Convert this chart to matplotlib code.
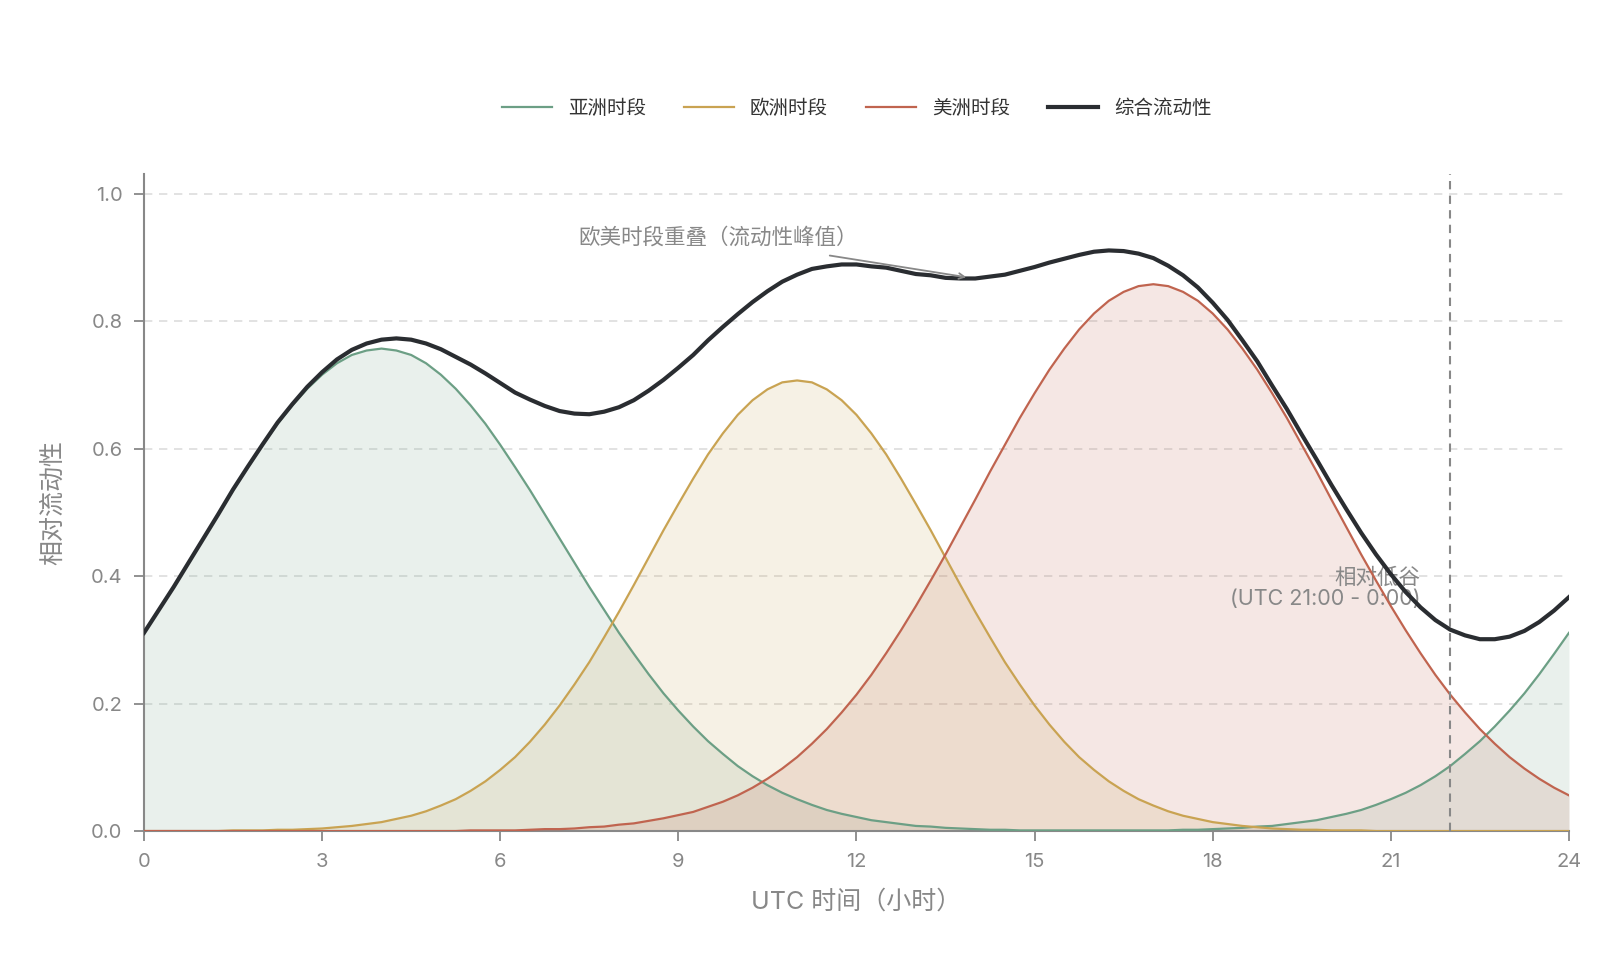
#!/usr/bin/env python3
"""
Forex session liquidity chart: Asia / Europe / America sessions and combined liquidity
"""

import numpy as np
import matplotlib
matplotlib.use('Agg')
import matplotlib.pyplot as plt

plt.rcParams['font.family'] = ['Inter', 'Noto Sans CJK SC', 'DejaVu Sans']
plt.rcParams['axes.unicode_minus'] = False

# UTC hours, quarter-hour steps
hours = np.arange(0, 24.25, 0.25)

# values, four per hour (0:00 .. 24:00)
asia = [
    0.311, 0.347, 0.383, 0.421,  # 0h
    0.459, 0.497, 0.535, 0.571,
    0.606, 0.639, 0.668, 0.694,
    0.716, 0.734, 0.747, 0.754,
    0.757, 0.754, 0.747, 0.734,  # 4h
    0.716, 0.694, 0.668, 0.639,
    0.606, 0.571, 0.535, 0.497,
    0.459, 0.421, 0.383, 0.347,
    0.311, 0.278, 0.246, 0.216,  # 8h
    0.189, 0.164, 0.141, 0.121,
    0.102, 0.086, 0.072, 0.060,
    0.050, 0.041, 0.033, 0.027,
    0.022, 0.017, 0.014, 0.011,  # 12h
    0.008, 0.007, 0.005, 0.004,
    0.003, 0.002, 0.002, 0.001,
    0.001, 0.001, 0.001, 0.001,
    0.001, 0.001, 0.001, 0.001,  # 16h
    0.001, 0.001, 0.002, 0.002,
    0.003, 0.004, 0.005, 0.007,
    0.008, 0.011, 0.014, 0.017,
    0.022, 0.027, 0.033, 0.041,  # 20h
    0.050, 0.060, 0.072, 0.086,
    0.102, 0.121, 0.141, 0.164,
    0.189, 0.216, 0.246, 0.278,
    0.311,
]
europe = [
    0.000, 0.000, 0.000, 0.000,  # 0h
    0.000, 0.000, 0.001, 0.001,
    0.001, 0.002, 0.002, 0.003,
    0.004, 0.006, 0.008, 0.011,
    0.014, 0.019, 0.024, 0.031,  # 4h
    0.040, 0.050, 0.063, 0.078,
    0.096, 0.116, 0.140, 0.167,
    0.197, 0.230, 0.265, 0.304,
    0.344, 0.386, 0.429, 0.472,  # 8h
    0.513, 0.553, 0.591, 0.624,
    0.653, 0.676, 0.693, 0.704,
    0.707, 0.704, 0.693, 0.676,
    0.653, 0.624, 0.591, 0.553,  # 12h
    0.513, 0.472, 0.429, 0.386,
    0.344, 0.304, 0.265, 0.230,
    0.197, 0.167, 0.140, 0.116,
    0.096, 0.078, 0.063, 0.050,  # 16h
    0.040, 0.031, 0.024, 0.019,
    0.014, 0.011, 0.008, 0.006,
    0.004, 0.003, 0.002, 0.002,
    0.001, 0.001, 0.001, 0.000,  # 20h
    0.000, 0.000, 0.000, 0.000,
    0.000, 0.000, 0.000, 0.000,
    0.000, 0.000, 0.000, 0.000,
    0.000,
]
america = [
    0.000, 0.000, 0.000, 0.000,  # 0h
    0.000, 0.000, 0.000, 0.000,
    0.000, 0.000, 0.000, 0.000,
    0.000, 0.000, 0.000, 0.000,
    0.000, 0.000, 0.000, 0.000,  # 4h
    0.000, 0.000, 0.001, 0.001,
    0.001, 0.001, 0.002, 0.003,
    0.003, 0.004, 0.006, 0.007,
    0.010, 0.012, 0.016, 0.020,  # 8h
    0.025, 0.030, 0.038, 0.046,
    0.056, 0.068, 0.082, 0.098,
    0.116, 0.137, 0.160, 0.186,
    0.214, 0.245, 0.279, 0.315,  # 12h
    0.353, 0.393, 0.434, 0.477,
    0.520, 0.564, 0.606, 0.648,
    0.687, 0.724, 0.757, 0.787,
    0.812, 0.832, 0.846, 0.855,  # 16h
    0.858, 0.855, 0.846, 0.832,
    0.812, 0.787, 0.757, 0.724,
    0.687, 0.648, 0.606, 0.564,
    0.520, 0.477, 0.434, 0.393,  # 20h
    0.353, 0.315, 0.279, 0.245,
    0.214, 0.186, 0.160, 0.137,
    0.116, 0.098, 0.082, 0.068,
    0.056,
]

# combined liquidity is the sum of the three sessions
combined = np.array(asia) + np.array(europe) + np.array(america)

session_names = ['亚洲时段', '欧洲时段', '美洲时段']
session_colors = ['#6c9f85', '#c9a352', '#c0644f']
combined_name = '综合流动性'
combined_color = '#2a2d31'

x_ticks = [0, 3, 6, 9, 12, 15, 18, 21, 24]
y_ticks = [0.0, 0.2, 0.4, 0.6, 0.8, 1.0]

gray = '#888888'

fig = plt.figure(figsize=(16, 9.67), dpi=100)
ax = fig.add_axes([0.09, 0.1406, 0.8906, 0.6795])

for vals, name, color in zip([asia, europe, america], session_names, session_colors):
    ax.fill_between(hours, 0, vals, color=color, alpha=0.15, lw=0, zorder=1)
    ax.plot(hours, vals, color=color, lw=1.6, label=name, zorder=3)

ax.plot(hours, combined, color=combined_color, lw=3, label=combined_name, zorder=5)

# low-liquidity marker
ax.axvline(22, color=gray, lw=1.5, ls=(0, (4, 3)), zorder=4)

# annotations
ax.text(9.67, 0.932, '欧美时段重叠（流动性峰值）', ha='center', va='center',
        fontsize=15.5, color=gray, zorder=2)
ax.annotate('', xy=(13.85, 0.869), xytext=(11.55, 0.903),
            arrowprops=dict(arrowstyle='->', color=gray, lw=1.3,
                            shrinkA=0, shrinkB=0), zorder=6)
ax.text(21.5, 0.381, '相对低谷\n(UTC 21:00 - 0:00)', ha='right', va='center',
        multialignment='right', fontsize=15.5, color=gray, zorder=2,
        linespacing=1.12)

ax.set_xlim(0, 24)
ax.set_ylim(0, 1.031)
ax.set_xticks(x_ticks)
ax.set_yticks(y_ticks)
ax.set_yticklabels([f'{v:.1f}' for v in y_ticks])

ax.grid(axis='y', color='#dddddd', lw=1.2, ls=(0, (5, 4)))
ax.set_axisbelow(True)

for side in ['top', 'right']:
    ax.spines[side].set_visible(False)
for side in ['left', 'bottom']:
    ax.spines[side].set_color(gray)
    ax.spines[side].set_linewidth(1.5)

ax.tick_params(axis='both', colors=gray, labelcolor=gray, labelsize=14.5,
               length=7.5, width=1.3, pad=8)

ax.set_xlabel('UTC 时间（小时）', fontsize=18, color=gray, labelpad=14)
ax.set_ylabel('相对流动性', fontsize=18, color=gray, labelpad=19)

leg = ax.legend(loc='center', bbox_to_anchor=(0.5, 1.10), ncol=4, frameon=False,
                fontsize=14, handlelength=2.6, handletextpad=0.8,
                columnspacing=1.95)
for t in leg.get_texts():
    t.set_color('#333333')

fig.savefig('out.png', dpi=100)
